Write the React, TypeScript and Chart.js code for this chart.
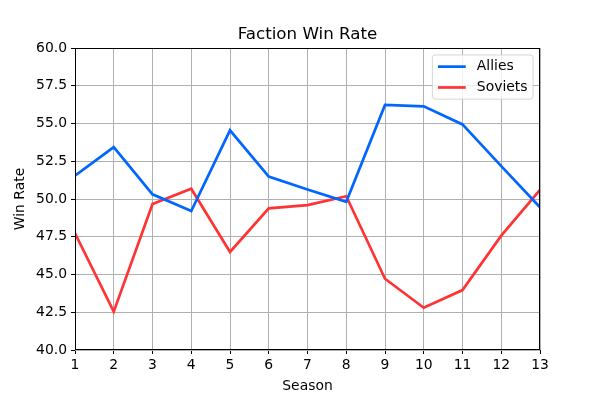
import React, { useEffect, useRef } from 'react';
import { Chart, registerables } from 'chart.js';

Chart.register(...registerables);

const seasons = [1, 2, 3, 4, 5, 6, 7, 8, 9, 10, 11, 12, 13];
const alliesWinRate = [51.54, 53.44, 50.31, 49.2, 54.55, 51.48, 50.63, 49.82, 56.23, 56.14, 54.94, 52.18, 49.45];
const sovietsWinRate = [47.73, 42.54, 49.67, 50.68, 46.49, 49.38, 49.6, 50.18, 44.72, 42.8, 43.97, 47.57, 50.6];
const seriesNames = ['Allies', 'Soviets'];
const chartTitle = 'Faction Win Rate';
const xAxisTitle = 'Season';
const yAxisTitle = 'Win Rate';

const FONT = "'DejaVu Sans', sans-serif";
const FS = 13.9;
const TITLE_FS = 16.7;

const framePlugin = {
  id: 'frame',
  afterDatasetsDraw(chart: any) {
    const { ctx, chartArea } = chart;
    ctx.save();
    ctx.strokeStyle = '#000000';
    ctx.lineWidth = 1;
    const l = Math.round(chartArea.left) + 0.5;
    const t = Math.round(chartArea.top) + 0.5;
    const r = Math.round(chartArea.right) - 0.5;
    const b = Math.round(chartArea.bottom) - 0.5;
    ctx.strokeRect(l, t, r - l, b - t);
    ctx.restore();
  },
};

const axesTitlePlugin = {
  id: 'axesTitle',
  afterDraw(chart: any) {
    const { ctx, chartArea } = chart;
    ctx.save();
    ctx.font = `${TITLE_FS}px ${FONT}`;
    ctx.fillStyle = '#000000';
    ctx.textAlign = 'center';
    ctx.textBaseline = 'alphabetic';
    ctx.fillText(chartTitle, (chartArea.left + chartArea.right) / 2, chartArea.top - 0.54 * TITLE_FS);
    ctx.restore();
  },
};

const innerLegendPlugin = {
  id: 'innerLegend',
  afterDraw(chart: any) {
    const { ctx, chartArea } = chart;
    const datasets = chart.data.datasets;
    ctx.save();
    ctx.font = `${FS}px ${FONT}`;
    const textW = Math.max(...datasets.map((d: any) => ctx.measureText(d.label).width));
    const pad = 0.4 * FS;
    const handle = 2 * FS;
    const gap = 0.8 * FS;
    const rowH = 1.5 * FS;
    const w = pad * 2 + handle + gap + textW;
    const firstRow = 0.84 * FS;
    const h = firstRow * 2 + rowH * (datasets.length - 1);
    const x = chartArea.right - 0.5 * FS - w;
    const y = chartArea.top + 0.5 * FS;
    const rad = 0.2 * FS;
    ctx.beginPath();
    ctx.moveTo(x + rad, y);
    ctx.lineTo(x + w - rad, y);
    ctx.quadraticCurveTo(x + w, y, x + w, y + rad);
    ctx.lineTo(x + w, y + h - rad);
    ctx.quadraticCurveTo(x + w, y + h, x + w - rad, y + h);
    ctx.lineTo(x + rad, y + h);
    ctx.quadraticCurveTo(x, y + h, x, y + h - rad);
    ctx.lineTo(x, y + rad);
    ctx.quadraticCurveTo(x, y, x + rad, y);
    ctx.closePath();
    ctx.fillStyle = 'rgba(255,255,255,0.8)';
    ctx.fill();
    ctx.strokeStyle = 'rgba(204,204,204,0.8)';
    ctx.lineWidth = 1;
    ctx.stroke();
    datasets.forEach((d: any, i: number) => {
      const cy = y + firstRow + i * rowH;
      ctx.beginPath();
      ctx.strokeStyle = d.borderColor;
      ctx.lineWidth = d.borderWidth;
      ctx.moveTo(x + pad, cy);
      ctx.lineTo(x + pad + handle, cy);
      ctx.stroke();
      ctx.fillStyle = '#000000';
      ctx.textBaseline = 'middle';
      ctx.textAlign = 'left';
      ctx.fillText(d.label, x + pad + handle + gap, cy);
    });
    ctx.restore();
  },
};

export default function App() {
  const canvasRef = useRef<HTMLCanvasElement | null>(null);

  useEffect(() => {
    if (!canvasRef.current) return;
    Chart.defaults.font.family = FONT;
    Chart.defaults.color = '#000000';
    const chart = new Chart(canvasRef.current, {
      type: 'line',
      data: {
        datasets: [
          {
            label: seriesNames[0],
            data: seasons.map((s, i) => ({ x: s, y: alliesWinRate[i] })),
            borderColor: '#0066ff',
            backgroundColor: '#0066ff',
            borderWidth: 2.7,
            pointRadius: 0,
            tension: 0,
          },
          {
            label: seriesNames[1],
            data: seasons.map((s, i) => ({ x: s, y: sovietsWinRate[i] })),
            borderColor: '#ff3333',
            backgroundColor: '#ff3333',
            borderWidth: 2.7,
            pointRadius: 0,
            tension: 0,
          },
        ],
      },
      options: {
        responsive: false,
        animation: false,
        layout: { padding: { left: 0, right: 60, top: 48, bottom: 0 } },
        plugins: {
          legend: { display: false },
          tooltip: { enabled: false },
          title: { display: false },
        },
        scales: {
          x: {
            type: 'linear',
            min: 1,
            max: 13,
            afterFit: (s: any) => { s.height = 50; },
            ticks: {
              stepSize: 1,
              color: '#000000',
              font: { family: FONT, size: FS },
              padding: 3,
              maxRotation: 0,
            },
            grid: { color: '#b0b0b0', lineWidth: 1, tickLength: 4, tickColor: '#000000' },
            border: { display: false },
            title: {
              display: true,
              text: xAxisTitle,
              color: '#000000',
              font: { family: FONT, size: FS },
              padding: { top: 0, bottom: 5 },
            },
          },
          y: {
            type: 'linear',
            min: 40,
            max: 60,
            afterFit: (s: any) => { s.width = 75; },
            ticks: {
              stepSize: 2.5,
              color: '#000000',
              font: { family: FONT, size: FS },
              padding: 4,
              callback: (v: any) => Number(v).toFixed(1),
            },
            grid: { color: '#b0b0b0', lineWidth: 1, tickLength: 4, tickColor: '#000000' },
            border: { display: false },
            title: {
              display: true,
              text: yAxisTitle,
              color: '#000000',
              font: { family: FONT, size: FS },
              padding: { top: 12, bottom: 0 },
            },
          },
        },
      },
      plugins: [framePlugin, axesTitlePlugin, innerLegendPlugin],
    } as any);
    return () => chart.destroy();
  }, []);

  return (
    <div style={{ position: 'absolute', left: 0, top: 0, width: 600, height: 400, background: '#ffffff' }}>
      <canvas ref={canvasRef} width={600} height={400} />
    </div>
  );
}
